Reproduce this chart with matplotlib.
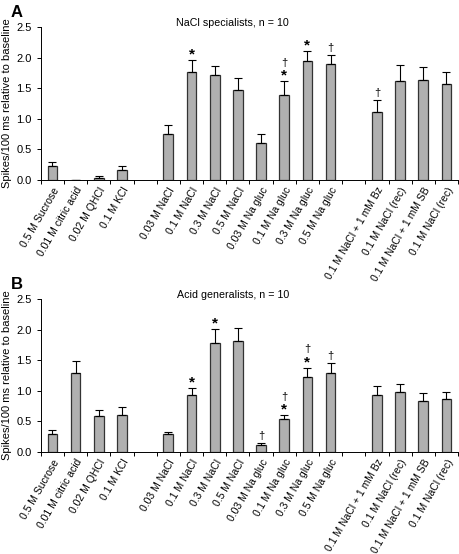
import matplotlib.pyplot as plt
import numpy as np

plt.rcParams['font.family'] = ['Liberation Sans', 'DejaVu Sans']

labels = ['0.5 M Sucrose', '0.01 M citric acid', '0.02 M QHCl', '0.1 M KCl',
          '0.03 M NaCl', '0.1 M NaCl', '0.3 M NaCl', '0.5 M NaCl',
          '0.03 M Na gluc', '0.1 M Na gluc', '0.3 M Na gluc', '0.5 M Na gluc',
          '0.1 M NaCl + 1 mM Bz', '0.1 M NaCl (rec)', '0.1 M NaCl + 1 mM SB', '0.1 M NaCl (rec)']

# slot positions (gaps at 4 and 13)
pos = [0, 1, 2, 3, 5, 6, 7, 8, 9, 10, 11, 12, 14, 15, 16, 17]

# panel A: NaCl specialists
a_mean = [0.23, 0.005, 0.04, 0.16, 0.75, 1.76, 1.72, 1.48, 0.60, 1.39, 1.94, 1.90, 1.12, 1.62, 1.64, 1.57]
a_err = [0.07, 0.0, 0.025, 0.07, 0.15, 0.20, 0.14, 0.19, 0.16, 0.23, 0.17, 0.15, 0.19, 0.26, 0.21, 0.19]
a_star = [0, 0, 0, 0, 0, 1, 0, 0, 0, 1, 1, 0, 0, 0, 0, 0]
a_dag = [0, 0, 0, 0, 0, 0, 0, 0, 0, 1, 0, 1, 1, 0, 0, 0]

# panel B: Acid generalists
b_mean = [0.29, 1.29, 0.59, 0.61, 0.29, 0.93, 1.78, 1.81, 0.11, 0.54, 1.22, 1.29, 0.94, 0.98, 0.84, 0.86]
b_err = [0.07, 0.20, 0.10, 0.12, 0.04, 0.11, 0.23, 0.22, 0.04, 0.06, 0.16, 0.17, 0.14, 0.13, 0.12, 0.13]
b_star = [0, 0, 0, 0, 0, 1, 1, 0, 0, 1, 1, 0, 0, 0, 0, 0]
b_dag = [0, 0, 0, 0, 0, 0, 0, 0, 1, 1, 1, 1, 0, 0, 0, 0]

fig = plt.figure(figsize=(4.59, 5.54), dpi=100)
axA = fig.add_axes([0.089, 0.675, 0.909, 0.276])
axB = fig.add_axes([0.089, 0.184, 0.909, 0.276])


def draw(ax, means, errs, stars, dags, title, letter):
    ax.bar(pos, means, width=0.42, color='#b0b0b0', edgecolor='#333333', linewidth=0.9,
           yerr=[np.zeros(len(errs)), errs], error_kw=dict(ecolor='black', elinewidth=0.8,
                                                          capsize=3, capthick=0.8))
    for x, m, e, s, d in zip(pos, means, errs, stars, dags):
        top = m + e
        off = 0
        if s:
            ax.annotate('*', (x, top), xytext=(0, -1), textcoords='offset points',
                        ha='center', va='bottom', fontsize=11, fontweight='bold')
            off = 8
        if d:
            ax.annotate('†', (x, top), xytext=(0, 1.5 + off), textcoords='offset points',
                        ha='center', va='bottom', fontsize=8)
    ax.set_xlim(-0.5, 17.5)
    ax.set_ylim(0, 2.5)
    ax.set_yticks(np.arange(0, 2.51, 0.5))
    ax.set_yticklabels(['%.1f' % v for v in np.arange(0, 2.51, 0.5)], fontsize=8)
    ax.set_xticks(np.arange(-0.5, 17.6, 1))
    ax.set_xticklabels([])
    ax.set_xticks(pos, minor=True)
    ax.set_xticklabels(labels, minor=True, rotation=60, ha='right', rotation_mode='anchor',
                       fontsize=7.5)
    ax.tick_params(axis='x', which='minor', length=0, pad=4)
    ax.tick_params(axis='x', which='major', length=3, width=0.7)
    ax.tick_params(axis='y', length=3, width=0.7)
    for sp in ['top', 'right']:
        ax.spines[sp].set_visible(False)
    ax.spines['left'].set_linewidth(0.7)
    ax.spines['bottom'].set_linewidth(0.7)
    ax.set_ylabel('Spikes/100 ms relative to baseline', fontsize=8, labelpad=3)
    ax.text(0.46, 0.995, title, transform=ax.transAxes, ha='center', va='bottom', fontsize=7.7)
    ax.text(-0.072, 1.05, letter, transform=ax.transAxes, ha='left', va='bottom',
            fontsize=12, fontweight='bold')


draw(axA, a_mean, a_err, a_star, a_dag, 'NaCl specialists, n = 10', 'A')
draw(axB, b_mean, b_err, b_star, b_dag, 'Acid generalists, n = 10', 'B')

fig.savefig('out.png', dpi=100)
